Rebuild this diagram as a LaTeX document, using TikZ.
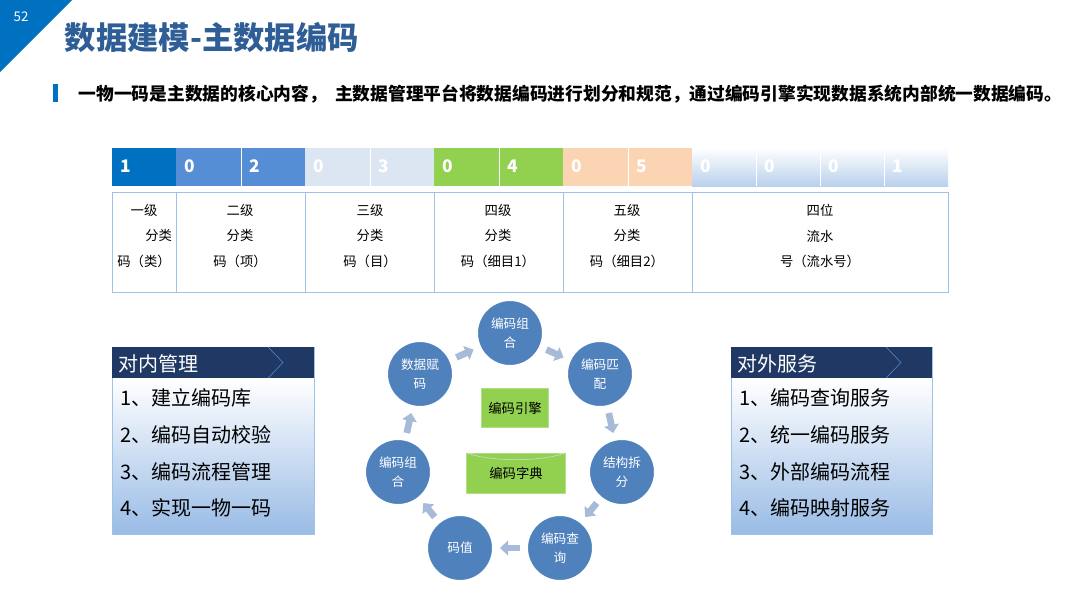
\documentclass[tikz,border=0pt]{standalone}
\usepackage{fontspec}
\setmainfont{Noto Sans CJK SC}
\usetikzlibrary{arrows.meta,positioning}
\definecolor{dkblue}{HTML}{0070C0}
\definecolor{mdblue}{HTML}{558ED5}
\definecolor{ltblue}{HTML}{DCE6F2}
\definecolor{grn}{HTML}{92D050}
\definecolor{peach}{HTML}{FBD4B4}
\definecolor{ttl}{HTML}{2F5E97}
\definecolor{navy}{HTML}{1F3864}
\definecolor{circ}{HTML}{4F81BD}
\definecolor{arr}{HTML}{A7BBD9}
\definecolor{grid}{HTML}{9DC3E6}
\tikzset{
  digit/.style={text=white,font=\bfseries\fontsize{13}{15}\selectfont,anchor=west},
  lbl/.style={align=center,font=\fontsize{10}{19}\selectfont},
  step circ/.style={circle,fill=circ,draw=white,line width=1pt,minimum size=49pt,inner sep=0pt,text=white,align=center,font=\fontsize{9.5}{14}\selectfont},
  flow/.style={arr,line width=5pt,-{Triangle[length=6pt,width=11pt]},shorten <=5pt,shorten >=5pt},
  item/.style={anchor=west,font=\fontsize{15}{18}\selectfont}
}
\begin{document}
\begin{tikzpicture}[x=0.75pt,y=-0.75pt]
\useasboundingbox (0,0) rectangle (1080,608);
\fill[white] (0,0) rectangle (1080,608);
% header
\fill[dkblue] (0,0) -- (72,0) -- (0,72) -- cycle;
\node[text=white,font=\fontsize{10}{12}\selectfont] (pg) at (21,17) {52};
\node[anchor=west,text=ttl,font=\bfseries\fontsize{23.5}{26}\selectfont] (title) at (60,38) {数据建模-主数据编码};
\fill[dkblue] (53,84) rectangle (58,102);
\node[anchor=west,font=\bfseries\fontsize{13.3}{15}\selectfont] (sub) at (74,94) {一物一码是主数据的核心内容，\ \ 主数据管理平台将数据编码进行划分和规范，通过编码引擎实现数据系统内部统一数据编码。};
% code bar
\fill[dkblue] (112,148) rectangle (176,186);
\fill[mdblue] (176,148) rectangle (305,186);
\fill[ltblue] (305,148) rectangle (434,186);
\fill[grn] (434,148) rectangle (563,186);
\fill[peach] (563,148) rectangle (692,186);
\shade[top color=white,bottom color=ltblue!40!mdblue!60] (692,148) rectangle (948,186);
\foreach \x in {241,370,499,628,756,820,884}
  \draw[white,line width=0.6pt] (\x,148) -- (\x,186);
\foreach \x/\d in {112/1,176/0,241/2,305/0,370/3,434/0,499/4,563/0,628/5,692/0,756/0,820/0,884/1}
  \node[digit] at (\x+4,166) {\d};
% label table
\draw[grid] (112,192) rectangle (948,292);
\foreach \x in {176,305,434,563,692}
  \draw[grid] (\x,192) -- (\x,292);
\node[lbl] (c1) at (144,236) {一级\\\hspace*{2.2em}分类\\码（类）};
\node[lbl] (c2) at (240,236) {二级\\分类\\码（项）};
\node[lbl] (c3) at (370,236) {三级\\分类\\码（目）};
\node[lbl] (c4) at (498,236) {四级\\分类\\码（细目1）};
\node[lbl] (c5) at (627,236) {五级\\分类\\码（细目2）};
\node[lbl] (c6) at (820,236) {四位\\流水\\号（流水号）};
% engine cycle
\node[step circ] (s1) at (510,333) {编码组\\合};
\node[step circ] (s2) at (600,374) {编码匹\\配};
\node[step circ] (s3) at (622,472) {结构拆\\分};
\node[step circ] (s4) at (560,548) {编码查\\询};
\node[step circ] (s5) at (460,548) {码值};
\node[step circ] (s6) at (398,472) {编码组\\合};
\node[step circ] (s7) at (420,374) {数据赋\\码};
\foreach \a/\b in {s1/s2,s2/s3,s3/s4,s4/s5,s5/s6,s6/s7,s7/s1}
  \draw[flow] (\a) -- (\b);
\node[fill=grn,draw=grn!70!white,minimum width=50pt,minimum height=29pt,font=\fontsize{10}{12}\selectfont] (eng) at (515,408) {编码引擎};
\node[fill=grn,draw=grn!70!white,minimum width=74pt,minimum height=30pt,font=\fontsize{10}{12}\selectfont,text depth=-6pt] (dict) at (516,473) {编码字典};
\draw[white!85!black] (dict.north west) .. controls (490,462) and (542,462) .. (dict.north east);
% left box
\shade[top color=white,bottom color=mdblue!60] (112,378) rectangle (314,534);
\draw[grid] (112,347) rectangle (314,534);
\fill[navy] (112,347) rectangle (314,378);
\draw[mdblue] (268,347) -- (283,362.5) -- (268,378);
\node[anchor=west,text=white,font=\fontsize{15}{18}\selectfont] (inh) at (114,364) {对内管理};
\node[item] (i1) at (116,398) {1、建立编码库};
\node[item] (i2) at (116,435) {2、编码自动校验};
\node[item] (i3) at (116,472) {3、编码流程管理};
\node[item] (i4) at (116,508) {4、实现一物一码};
% right box
\shade[top color=white,bottom color=mdblue!60] (731,378) rectangle (932,534);
\draw[grid] (731,347) rectangle (932,534);
\fill[navy] (731,347) rectangle (932,378);
\draw[mdblue] (886,347) -- (901,362.5) -- (886,378);
\node[anchor=west,text=white,font=\fontsize{15}{18}\selectfont] (outh) at (733,364) {对外服务};
\node[item] (o1) at (735,398) {1、编码查询服务};
\node[item] (o2) at (735,435) {2、统一编码服务};
\node[item] (o3) at (735,472) {3、外部编码流程};
\node[item] (o4) at (735,508) {4、编码映射服务};
\end{tikzpicture}
\end{document}
